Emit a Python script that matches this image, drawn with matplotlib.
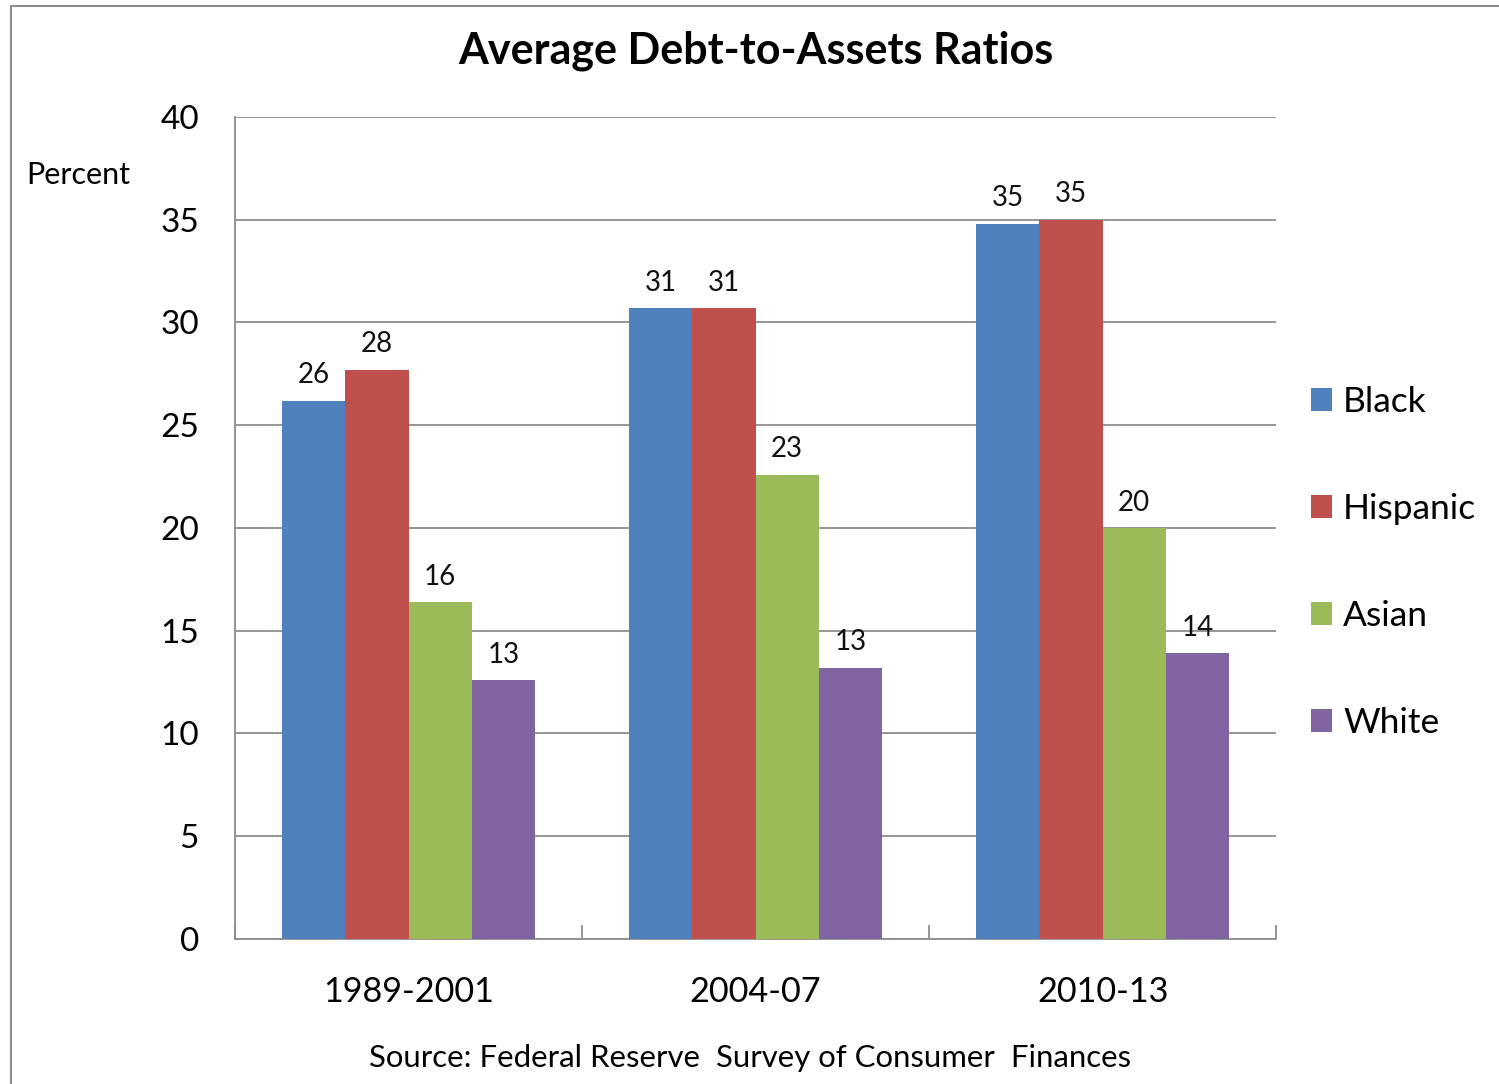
import matplotlib.pyplot as plt
import numpy as np
from matplotlib.patches import Rectangle

plt.rcParams['font.family'] = ['Lato', 'DejaVu Sans']

# Data
periods = ["1989-2001", "2004-07", "2010-13"]
groups = ["Black", "Hispanic", "Asian", "White"]
black = [26.2, 30.7, 34.8]
hispanic = [27.7, 30.7, 35.0]
asian = [16.4, 22.6, 20.0]
white = [12.6, 13.2, 13.9]
colors = ["#4f81bd", "#c0504d", "#9bbb59", "#8064a2"]

fig = plt.figure(figsize=(14.99, 10.84), dpi=100)
ax = fig.add_axes([0.1568, 0.1338, 0.6945, 0.7583])

# outer chart frame
fig.patches.append(Rectangle((11 / 1499, -0.05), 1.2, 1 - 6 / 1084 + 0.05,
                             transform=fig.transFigure, fill=False,
                             edgecolor="#8c8c8c", linewidth=1.5))

x = np.arange(len(periods))
width = 0.182
series = [black, hispanic, asian, white]
for i, (name, vals) in enumerate(zip(groups, series)):
    pos = x + (i - 1.5) * width
    bars = ax.bar(pos, vals, width, color=colors[i], label=name, zorder=3)
    for b, v in zip(bars, vals):
        ax.text(b.get_x() + b.get_width() / 2, v + 0.6, f"{v:.0f}",
                ha="center", va="bottom", fontsize=20, color="#111111")

ax.set_xlim(-0.5, 2.5)
ax.set_ylim(0, 40)
ax.set_yticks(range(0, 41, 5))
ax.yaxis.grid(True, color="#8c8c8c", linewidth=1.3, zorder=0)
ax.set_axisbelow(True)

for s in ["top", "right"]:
    ax.spines[s].set_visible(False)
for s in ["left", "bottom"]:
    ax.spines[s].set_color("#8c8c8c")
    ax.spines[s].set_linewidth(1.3)

ax.tick_params(axis="y", length=0, pad=26, labelsize=24)
# category labels, tick marks at group boundaries
ax.set_xticks(x)
ax.set_xticklabels(periods, fontsize=24.7)
ax.tick_params(axis="x", which="major", length=0, pad=27)
ax.set_xticks([-0.5, 0.5, 1.5, 2.5], minor=True)
ax.tick_params(axis="x", which="minor", length=10, width=1.3,
               color="#8c8c8c", direction="in")

ax.text(-0.2008, 0.93, "Percent", transform=ax.transAxes, fontsize=22,
        ha="left", va="center")

fig.text(0.504, 0.953, "Average Debt-to-Assets Ratios", ha="center",
         va="center", fontsize=31, fontweight="bold")
fig.text(0.5003, 0.024, "Source: Federal Reserve  Survey of Consumer  Finances",
         ha="center", va="center", fontsize=22.4)

leg = ax.legend(loc="center left", bbox_to_anchor=(1.003, 0.458),
                frameon=False, fontsize=25.5, handlelength=0.6,
                handleheight=0.6, handletextpad=0.3, labelspacing=2.12)

fig.savefig("out.png", dpi=100)
